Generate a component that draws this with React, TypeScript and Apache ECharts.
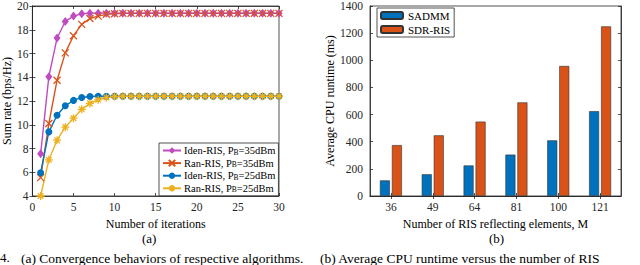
import React, { useEffect, useRef } from "react";
import * as echarts from "echarts";

const ITER = Array.from({ length: 30 }, (_, i) => i + 1);
const IDEN35 = [7.55, 14.05, 17.3, 18.7, 19.15, 19.35, 19.4, 19.4, 19.4, 19.4, 19.4, 19.4, 19.4, 19.4, 19.4, 19.4, 19.4, 19.4, 19.4, 19.4, 19.4, 19.4, 19.4, 19.4, 19.4, 19.4, 19.4, 19.4, 19.4, 19.4];
const RAN35 = [5.55, 10.1, 13.75, 16.05, 17.5, 18.45, 18.95, 19.15, 19.3, 19.35, 19.38, 19.38, 19.38, 19.38, 19.38, 19.38, 19.38, 19.38, 19.38, 19.38, 19.38, 19.38, 19.38, 19.38, 19.38, 19.38, 19.38, 19.38, 19.38, 19.38];
const IDEN25 = [5.95, 9.4, 10.8, 11.6, 12.05, 12.3, 12.38, 12.4, 12.4, 12.4, 12.4, 12.4, 12.4, 12.4, 12.4, 12.4, 12.4, 12.4, 12.4, 12.4, 12.4, 12.4, 12.4, 12.4, 12.4, 12.4, 12.4, 12.4, 12.4, 12.4];
const RAN25 = [4.0, 7.05, 8.7, 9.8, 10.55, 11.3, 11.8, 12.1, 12.3, 12.38, 12.4, 12.4, 12.4, 12.4, 12.4, 12.4, 12.4, 12.4, 12.4, 12.4, 12.4, 12.4, 12.4, 12.4, 12.4, 12.4, 12.4, 12.4, 12.4, 12.4];

const ELEMENTS = ["36", "49", "64", "81", "100", "121"];
const SADMM = [115, 160, 225, 305, 410, 625];
const SDR = [375, 447, 548, 690, 958, 1250];

const FONT = "'Liberation Serif', 'Times New Roman', serif";
const AX = "#262626";

const X_SYM = "path://M0,0L10,10M10,0L0,10";
const AST_SYM = "path://M5,0L5,10M0,5L10,5M1.5,1.5L8.5,8.5M8.5,1.5L1.5,8.5";

export default function App() {
  const ref = useRef<HTMLDivElement>(null);
  useEffect(() => {
    const chart = echarts.init(ref.current!, null, { renderer: "svg" });
    const pts = (arr: number[]) => ITER.map((x, i) => [x, arr[i]]);
    const lineSeries = (name: string, data: number[], color: string, symbol: string, size: any, stroke: boolean) => ({
      type: "line",
      name,
      xAxisIndex: 0,
      yAxisIndex: 0,
      data: pts(data),
      symbol,
      symbolSize: size,
      lineStyle: { color, width: 1.4 },
      itemStyle: stroke
        ? { color: "rgba(0,0,0,0)", borderColor: color, borderWidth: 1.3 }
        : { color, borderColor: color, borderWidth: 0 },
    });
    const plain = (v: number | string) => String(v);
    const tickLabel = { fontFamily: FONT, fontSize: 11.5, color: AX, formatter: plain };
    const nameStyle = { fontFamily: FONT, fontSize: 12, color: "#000" };
    const axLine = { show: true, lineStyle: { color: AX, width: 0.8 } };
    const tickIn = { show: true, inside: true, length: 3, lineStyle: { color: AX, width: 0.8 } };
    const legendFmt = (n: string) => n.replace("PB", "P{s|B}");
    chart.setOption({
      animation: false,
      textStyle: { fontFamily: FONT },
      grid: [
        { left: 29, top: 4, width: 250, height: 192, show: true, borderColor: AX, borderWidth: 0.8, backgroundColor: "#fff" },
        { left: 370, top: 4, width: 251, height: 192, show: true, borderColor: AX, borderWidth: 0.8, backgroundColor: "#fff" },
      ],
      xAxis: [
        {
          gridIndex: 0, type: "value", min: 0, max: 30, interval: 5,
          axisLine: axLine, axisTick: tickIn, splitLine: { show: false },
          axisLabel: { ...tickLabel, margin: 5 },
          name: "Number of iterations", nameLocation: "middle", nameGap: 18, nameTextStyle: nameStyle,
        },
        {
          gridIndex: 1, type: "category", data: ELEMENTS, boundaryGap: true,
          axisLine: axLine, axisTick: { ...tickIn, alignWithLabel: true }, splitLine: { show: false },
          axisLabel: { ...tickLabel, margin: 5 },
          name: "Number of RIS reflecting elements, M", nameLocation: "middle", nameGap: 18, nameTextStyle: nameStyle,
        },
        {
          gridIndex: 0, type: "value", min: 0, max: 30, interval: 5, position: "top",
          axisLine: axLine, axisTick: tickIn, splitLine: { show: false }, axisLabel: { show: false },
        },
        {
          gridIndex: 1, type: "category", data: ELEMENTS, boundaryGap: true, position: "top",
          axisLine: axLine, axisTick: { ...tickIn, alignWithLabel: true }, splitLine: { show: false }, axisLabel: { show: false },
        },
      ],
      yAxis: [
        {
          gridIndex: 0, type: "value", min: 4, max: 20, interval: 2,
          axisLine: axLine, axisTick: tickIn, splitLine: { show: false },
          axisLabel: { ...tickLabel, margin: 4 },
          name: "Sum rate (bps/Hz)", nameLocation: "middle", nameGap: 17, nameTextStyle: nameStyle,
        },
        {
          gridIndex: 1, type: "value", min: 0, max: 1400, interval: 200,
          axisLine: axLine, axisTick: tickIn, splitLine: { show: false },
          axisLabel: { ...tickLabel, margin: 7 },
          name: "Average CPU runtime (ms)", nameLocation: "middle", nameGap: 29, nameTextStyle: nameStyle,
        },
        {
          gridIndex: 0, type: "value", min: 4, max: 20, interval: 2, position: "right",
          axisLine: axLine, axisTick: tickIn, splitLine: { show: false }, axisLabel: { show: false },
        },
        {
          gridIndex: 1, type: "value", min: 0, max: 1400, interval: 200, position: "right",
          axisLine: axLine, axisTick: tickIn, splitLine: { show: false }, axisLabel: { show: false },
        },
      ],
      legend: [
        {
          orient: "vertical", left: 159, top: 143,
          data: ["Iden-RIS, PB=35dBm", "Ran-RIS, PB=35dBm", "Iden-RIS, PB=25dBm", "Ran-RIS, PB=25dBm"],
          itemWidth: 18, itemHeight: 8, itemGap: 1.6, padding: [2, 3, 2, 3],
          borderColor: AX, borderWidth: 0.8, backgroundColor: "#fff", borderRadius: 0,
          formatter: legendFmt,
          textStyle: {
            fontFamily: FONT, fontSize: 10.5, color: "#000", padding: [0, 0, 0, -2],
            rich: { s: { fontFamily: FONT, fontSize: 7.5, padding: [3, 0, 0, 0], color: "#000" } },
          },
        },
        {
          orient: "vertical", left: 377, top: 8,
          data: ["SADMM", "SDR-RIS"],
          itemWidth: 22, itemHeight: 7, itemGap: 3, padding: [2, 4, 2, 3],
          borderColor: AX, borderWidth: 0.8, backgroundColor: "#fff", borderRadius: 0,
          textStyle: { fontFamily: FONT, fontSize: 11, color: "#000" },
        },
      ],
      series: [
        lineSeries("Iden-RIS, PB=35dBm", IDEN35, "#C04BC0", "diamond", [7, 9], false),
        lineSeries("Ran-RIS, PB=35dBm", RAN35, "#D95319", X_SYM, 7, true),
        lineSeries("Iden-RIS, PB=25dBm", IDEN25, "#0072BD", "circle", 7, false),
        lineSeries("Ran-RIS, PB=25dBm", RAN25, "#EDB120", AST_SYM, 8, true),
        {
          type: "bar", name: "SADMM", xAxisIndex: 1, yAxisIndex: 1, data: SADMM,
          barWidth: 10, barGap: "20%",
          itemStyle: { color: "#0072BD", borderColor: "#333", borderWidth: 0.6 },
        },
        {
          type: "bar", name: "SDR-RIS", xAxisIndex: 1, yAxisIndex: 1, data: SDR,
          barWidth: 10, barGap: "20%",
          itemStyle: { color: "#D95319", borderColor: "#333", borderWidth: 0.6 },
        },
      ],
      graphic: [
        { type: "text", left: 142, top: 232, style: { text: "(a)", font: `13px ${FONT}`, fill: "#000" } },
        { type: "text", left: 489, top: 232, style: { text: "(b)", font: `13px ${FONT}`, fill: "#000" } },
        { type: "text", x: 0, y: 251, style: { text: "4.", font: `13px ${FONT}`, fill: "#000" } },
        { type: "text", x: 21, y: 251, style: { text: "(a) Convergence behaviors of respective algorithms.", font: `13.5px ${FONT}`, fill: "#000" } },
        { type: "text", x: 320, y: 251, style: { text: "(b) Average CPU runtime versus the number of RIS", font: `13.5px ${FONT}`, fill: "#000" } },
      ],
    });
    return () => chart.dispose();
  }, []);
  return <div ref={ref} style={{ width: 640, height: 265, position: "absolute", left: 0, top: 0 }} />;
}
